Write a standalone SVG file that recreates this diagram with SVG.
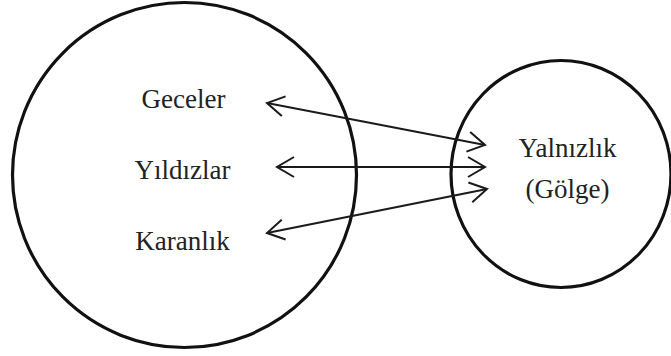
<svg xmlns="http://www.w3.org/2000/svg" width="671" height="356" viewBox="0 0 671 356">
<defs>
<style>
.circ{fill:none;stroke:#111;stroke-width:3.2}
.lbl{font-family:"Liberation Serif","Times New Roman",serif;font-size:27px;fill:#222;text-anchor:middle}
.con{fill:none;stroke:#1a1a1a;stroke-width:1.8;marker-start:url(#ah);marker-end:url(#ah)}
</style>
<marker id="ah" viewBox="0 0 20 22" refX="18" refY="11" markerWidth="20" markerHeight="22" markerUnits="userSpaceOnUse" orient="auto-start-reverse">
<path d="M1,1 L18,11 L1,21" fill="none" stroke="#1a1a1a" stroke-width="2"/>
</marker>
</defs>
<rect width="671" height="356" fill="#fff"/>
<g id="left-node">
<ellipse class="circ" cx="184.5" cy="175" rx="172" ry="172.5"/>
<text class="lbl" x="183.5" y="108">Geceler</text>
<text class="lbl" x="182.5" y="179">Yıldızlar</text>
<text class="lbl" x="182.5" y="250">Karanlık</text>
</g>
<g id="right-node">
<ellipse class="circ" cx="561" cy="174" rx="110" ry="113.5"/>
<text class="lbl" x="567.5" y="157">Yalnızlık</text>
<text class="lbl" x="567.5" y="198">(Gölge)</text>
</g>
<g id="connectors">
<line class="con" x1="267" y1="103" x2="485" y2="145"/>
<line class="con" x1="277" y1="167" x2="485" y2="167"/>
<line class="con" x1="267" y1="233" x2="487" y2="189"/>
</g>
</svg>
